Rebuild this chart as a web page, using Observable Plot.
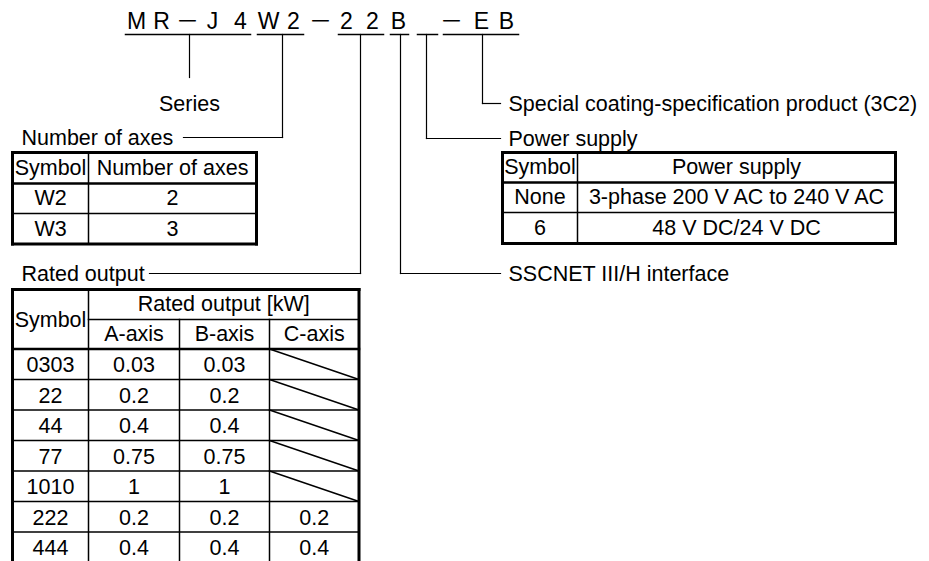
<!DOCTYPE html>
<html><head><meta charset="utf-8">
<script src="https://cdn.jsdelivr.net/npm/d3@7"></script>
<script src="https://cdn.jsdelivr.net/npm/@observablehq/plot@0.6"></script>
<style>body{margin:0;background:#fff}</style>
</head><body><div id="chart"></div>
<script>
// ---- data ----
const modelChars = ["M","R","－","J","4","W","2","－","2","2","B","－","E","B"];
const modelCharX = [136,161,187,212,240,268,293,320,346,372,398,451,481,506];

const segmentNames = ["Series","Number of axes","Rated output","SSCNET III/H interface","Power supply","Special coating-specification product (3C2)"];
const segmentStart = [125,257,338,390,417,443];
const segmentEnd   = [250,303,383,408,437,518];
const leaderX      = [189,282,360,400,426,482];
const leaderY      = [77,137,273,273,138,103];
const leaderEndX   = [null,183,149,500,500,500];
const labelSide    = ["below","left","left","right","right","right"];

const axesHeader = ["Symbol","Number of axes"];
const axesSymbols = ["W2","W3"];
const axesCounts = ["2","3"];

const powerHeader = ["Symbol","Power supply"];
const powerSymbols = ["None","6"];
const powerValues = ["3-phase 200 V AC to 240 V AC","48 V DC/24 V DC"];

const ratedHeader = ["Symbol","Rated output [kW]"];
const axisNames = ["A-axis","B-axis","C-axis"];
const ratedSymbols = ["0303","22","44","77","1010","222","444"];
const ratedA = ["0.03","0.2","0.4","0.75","1","0.2","0.4"];
const ratedB = ["0.03","0.2","0.4","0.75","1","0.2","0.4"];
const ratedC = [null,null,null,null,null,"0.2","0.4"];

// ---- layout ----
const UNDER_Y = 34, TOP_Y = 21;
const lines = [];
const seg = (x1,y1,x2,y2,w)=>lines.push({x1,y1,x2,y2,w});
const textsMid = [], textsStart = [];

segmentNames.forEach((name,i)=>{
  seg(segmentStart[i],UNDER_Y,segmentEnd[i],UNDER_Y,1.5);
  const lx = leaderX[i], ly = leaderY[i];
  seg(lx,UNDER_Y,lx,ly,1.2);
  if (labelSide[i]==="below") {
    textsMid.push({x:lx,y:ly+27,t:name});
  } else {
    seg(lx,ly,leaderEndX[i],ly,1.2);
    if (labelSide[i]==="left") textsStart.push({x:21,y:ly+1,t:name});
    else textsStart.push({x:508,y:ly+1,t:name});
  }
});

function rectBox(x0,y0,x1,y1){
  seg(x0,y0,x1,y0,3); seg(x0,y1,x1,y1,3);
  seg(x0,y0,x0,y1,3); seg(x1,y0,x1,y1,3);
}

function simpleTable(x0,xm,x1,ys,header,col1,col2){
  rectBox(x0,ys[0],x1,ys[ys.length-1]);
  seg(xm,ys[0],xm,ys[ys.length-1],1.5);
  seg(x0,ys[1],x1,ys[1],2.5);
  for (let k=2;k<ys.length-1;k++) seg(x0,ys[k],x1,ys[k],1.5);
  const c1=(x0+xm)/2, c2=(xm+x1)/2;
  const rowsA=[header[0],...col1], rowsB=[header[1],...col2];
  rowsA.forEach((t,k)=>{
    const cy=(ys[k]+ys[k+1])/2;
    textsMid.push({x:c1,y:cy,t});
    textsMid.push({x:c2,y:cy,t:rowsB[k]});
  });
}
simpleTable(12,88,256,[152,183,213,243.5],axesHeader,axesSymbols,axesCounts);
simpleTable(502,577,895,[152,182,212,243],powerHeader,powerSymbols,powerValues);

// rated output table
const rx = [12,88,179,269,358.5];
const hy = [289,319,348.5];
const rowStep = 30.5;
const rowY = ratedSymbols.map((_,k)=>hy[2]+(k+1)*rowStep);
const bottom = rowY[rowY.length-1];
rectBox(rx[0],hy[0],rx[4],bottom);
seg(rx[1],hy[0],rx[1],bottom,1.5);
seg(rx[2],hy[1],rx[2],bottom,1.5);
seg(rx[3],hy[1],rx[3],bottom,1.5);
seg(rx[1],hy[1],rx[4],hy[1],1.5);
seg(rx[0],hy[2],rx[4],hy[2],2.5);
rowY.slice(0,-1).forEach(y=>seg(rx[0],y,rx[4],y,1.5));
textsMid.push({x:(rx[0]+rx[1])/2,y:(hy[0]+hy[2])/2+1,t:ratedHeader[0]});
textsMid.push({x:(rx[1]+rx[4])/2,y:(hy[0]+hy[1])/2,t:ratedHeader[1]});
axisNames.forEach((a,j)=>textsMid.push({x:(rx[j+1]+rx[j+2])/2,y:(hy[1]+hy[2])/2,t:a}));
ratedSymbols.forEach((s,k)=>{
  const top = k===0?hy[2]:rowY[k-1], bot=rowY[k], cy=(top+bot)/2+1;
  textsMid.push({x:(rx[0]+rx[1])/2,y:cy,t:s});
  textsMid.push({x:(rx[1]+rx[2])/2,y:cy,t:ratedA[k]});
  textsMid.push({x:(rx[2]+rx[3])/2,y:cy,t:ratedB[k]});
  if (ratedC[k]===null) seg(rx[3],top,rx[4],bot,1.5);
  else textsMid.push({x:(rx[3]+rx[4])/2,y:cy,t:ratedC[k]});
});

const topChars = modelChars.map((c,i)=>({x:modelCharX[i],y:TOP_Y,t:c}));

const FONT = "'Liberation Sans', Arial, 'Noto Sans CJK JP', sans-serif";
const chart = Plot.plot({
  width:929, height:561, margin:0,
  x:{domain:[0,929],range:[0,929],axis:null},
  y:{domain:[0,561],range:[0,561],axis:null},
  style:{fontFamily:FONT, background:"white", color:"black"},
  marks:[
    Plot.link(lines,{x1:"x1",y1:"y1",x2:"x2",y2:"y2",stroke:"black",strokeWidth:"w",strokeLinecap:"square"}),
    Plot.text(topChars,{x:"x",y:"y",text:"t",fontSize:23,fill:"black"}),
    Plot.text(textsMid,{x:"x",y:"y",text:"t",fontSize:21.5,fill:"black",textAnchor:"middle"}),
    Plot.text(textsStart,{x:"x",y:"y",text:"t",fontSize:21.5,fill:"black",textAnchor:"start"})
  ]
});
document.getElementById("chart").appendChild(chart);
</script>
</body></html>
